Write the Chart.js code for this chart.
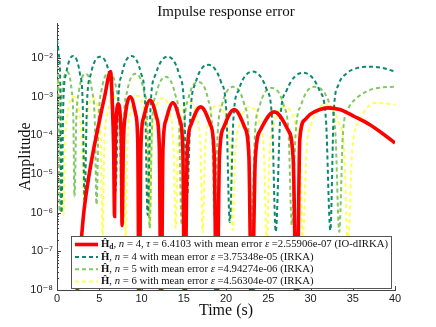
<!DOCTYPE html>
<html><head><meta charset="utf-8">
<script src="https://cdn.jsdelivr.net/npm/chart.js@4"></script>
<style>html,body{margin:0;padding:0;background:#fff}canvas{display:block}</style>
</head><body>
<canvas id="c" width="436" height="327"></canvas>
<script>
// ---- data (time in s, amplitude) ----
const redT = [2.3,2.78,3.14,3.61,4.21,4.92,5.63,6.34,6.55,6.70,6.81, 6.88,6.99,7.25,7.52,7.63,7.70, 7.86,8.10,8.68,9.32,9.56,9.72, 9.93,10.24,11.02,11.80,12.11,12.32, 12.54,12.88,13.71,14.55,14.89,15.11, 15.41,15.87,17.00,18.14,18.60,18.90, 19.23,19.73,20.97,22.21,22.71,23.04, 23.47,24.11,25.71,27.31,27.95,28.38, 28.73,29.33,29.92,31.10,32.05,33.47,35.25,37.03,38.80,40];
const redV = [5e-9,1.07e-7,8.7e-7,5.2e-6,3.1e-5,1.86e-4,9.8e-4,4.4e-3,6e-4,5e-5,8e-7, 4.0e-5,2.3e-4,6.5e-4,2.3e-4,4.0e-5,4.6e-7, 6.1e-5,3.4e-4,9.8e-4,3.4e-4,6.1e-5,1e-9, 5.0e-5,2.8e-4,8.1e-4,2.8e-4,5.0e-5,1e-9, 4.3e-5,2.4e-4,6.9e-4,2.4e-4,4.3e-5,1e-9, 3.3e-5,1.9e-4,5.4e-4,1.9e-4,3.3e-5,1e-9, 2.9e-5,1.6e-4,4.6e-4,1.6e-4,2.9e-5,1e-9, 2.5e-5,1.4e-4,4.0e-4,1.4e-4,2.5e-5,1e-9, 7.6e-5,2.5e-4,3.4e-4,4.6e-4,5.1e-4,4.6e-4,3.0e-4,1.86e-4,1.0e-4,6.3e-5];

const tealT = [0,0.2,0.38,0.53, 0.75,1.08,1.90,2.71,3.04,3.26, 3.55,3.99,5.09,6.20,6.64,6.93, 7.23,7.69,8.83,9.96,10.42,10.72, 11.09,11.66,13.06,14.46,15.03,15.40, 15.80,16.41,17.92,19.43,20.04,20.44, 20.88,21.53,23.17,24.80,25.45,25.89, 26.41,27.18,29.12,31.06,31.83,32.35, 32.75,33.3,34.3,35.6,37.03,38.8,40];
const tealV = [2.9e-2,1.3e-2,2.5e-3,9.8e-7, 6.9e-4,3.9e-3,1.12e-2,3.9e-3,6.9e-4,2.1e-6, 6.6e-4,3.7e-3,1.07e-2,3.7e-3,6.6e-4,3.6e-6, 6.9e-4,3.9e-3,1.12e-2,3.9e-3,6.9e-4,8.7e-7, 6.6e-4,3.7e-3,1.07e-2,3.7e-3,6.6e-4,2.6e-6, 4.1e-4,2.3e-3,6.6e-3,2.3e-3,4.1e-4,5.7e-7, 2.7e-4,1.54e-3,4.4e-3,1.54e-3,2.7e-4,3.2e-7, 2.5e-4,1.44e-3,4.1e-3,1.44e-3,2.5e-4,3.5e-7, 4e-4,2.0e-3,4.0e-3,5.5e-3,5.9e-3,5.3e-3,4.4e-3];

const greenT = [0,0.15,0.30, 0.44,0.65,1.18,1.72,1.93,2.07, 2.28,2.59,3.38,4.16,4.47,4.68, 4.92,5.27,6.16,7.05,7.40,7.64, 7.91,8.30,9.30,10.30,10.69,10.96, 11.26,11.72,12.86,13.99,14.45,14.75, 15.06,15.53,16.71,17.88,18.35,18.66, 19.01,19.54,20.85,22.16,22.69,23.04, 23.42,23.99,25.42,26.84,27.41,27.79, 28.24,28.91,30.4,32.28,32.95,33.4, 33.85,34.5,35.49,37.03,38.5,40];
const greenV = [6.2e-3,1.5e-3,1.05e-6, 2.7e-4,1.52e-3,4.35e-3,1.52e-3,2.7e-4,2.6e-6, 2.4e-4,1.35e-3,3.86e-3,1.35e-3,2.4e-4,1.6e-6, 2.5e-4,1.44e-3,4.1e-3,1.44e-3,2.5e-4,8.7e-7, 2.4e-4,1.35e-3,3.86e-3,1.35e-3,2.4e-4,4.0e-7, 2.0e-4,1.13e-3,3.23e-3,1.13e-3,2.0e-4,4.8e-7, 1.48e-4,8.4e-4,2.39e-3,8.4e-4,1.48e-4,7.3e-7, 1.1e-4,6.2e-4,1.78e-3,6.2e-4,1.1e-4,4.8e-7, 1.04e-4,5.8e-4,1.67e-3,5.8e-4,1.04e-4,4.8e-7, 1.1e-4,6.2e-4,1.78e-3,6.2e-4,1.1e-4,3.2e-7, 1.2e-4,5e-4,9.2e-4,1.48e-3,1.72e-3,1.78e-3];

const yellowT = [0,0.4,0.77, 0.96,1.24,1.95,2.67,2.95,3.14, 3.32,3.59,4.27,4.94,5.21,5.39, 5.61,5.94,6.75,7.57,7.90,8.12, 8.35,8.69,9.54,10.39,10.73,10.96, 11.21,11.58,12.50,13.42,13.79,14.04, 14.30,14.68,15.64,16.60,16.98,17.24, 17.52,17.95,19.02,20.08,20.51,20.79, 21.11,21.60,22.81,24.01,24.50,24.82, 25.16,25.67,26.95,28.24,28.75,29.09, 29.52,30.16,31.70,33.35,33.99,34.42, 34.95,35.8,37.86,40];
const yellowV = [2.4e-3,8e-4,8.7e-7, 6.1e-5,3.4e-4,9.8e-4,3.4e-4,6.1e-5,2.1e-6, 5.7e-5,3.2e-4,9.2e-4,3.2e-4,5.7e-5,2.6e-7, 6.1e-5,3.4e-4,9.8e-4,3.4e-4,6.1e-5,1.45e-7, 6.4e-5,3.6e-4,1.04e-3,3.6e-4,6.4e-5,4.0e-7, 5.7e-5,3.2e-4,9.2e-4,3.2e-4,5.7e-5,4.0e-7, 4.5e-5,2.6e-4,7.3e-4,2.6e-4,4.5e-5,3.0e-7, 3.8e-5,2.1e-4,6.1e-4,2.1e-4,3.8e-5,3.5e-7, 3.3e-5,1.9e-4,5.4e-4,1.9e-4,3.3e-5,1.45e-7, 3.3e-5,1.9e-4,5.4e-4,1.9e-4,3.3e-5,2.2e-7, 3.8e-5,2.1e-4,6.1e-4,2.1e-4,3.8e-5,1.45e-7, 4.3e-5,2.4e-4,6.9e-4,6.1e-4];

const xTickValues = [0,5,10,15,20,25,30,35,40];
const yTickValues = [1e-8,1e-7,1e-6,1e-5,1e-4,1e-3,1e-2];
const yTickLabels = ['10⁻⁸','10⁻⁷','10⁻⁶','10⁻⁵','10⁻⁴','10⁻³','10⁻²'];
const titleText = 'Impulse response error';
const xTitle = 'Time (s)';
const yTitle = 'Amplitude';
// legend rows: [text, style] segments (b = bold, i = italic, s = bold subscript)
const legendRows = [
  [['Ĥ','b'],['d','s'],[', ',''],['n','i'],[' = 4, ',''],['τ','i'],[' = 6.4103 with mean error ',''],['ε','i'],[' =2.55906e-07 (IO-dIRKA)','']],
  [['Ĥ','b'],[', ',''],['n','i'],[' = 4 with mean error ',''],['ε','i'],[' =3.75348e-05 (IRKA)','']],
  [['Ĥ','b'],[', ',''],['n','i'],[' = 5 with mean error ',''],['ε','i'],[' =4.94274e-06 (IRKA)','']],
  [['Ĥ','b'],[', ',''],['n','i'],[' = 6 with mean error ',''],['ε','i'],[' =4.56304e-07 (IRKA)','']]
];

const SERIF = "'Liberation Serif','DejaVu Serif',serif";
const SANS = "'Liberation Sans','DejaVu Sans',sans-serif";
const pts = (T, V) => T.map((t, i) => ({x: t, y: V[i]}));

const axisDeco = {
  id: 'axisDeco',
  afterDraw(chart) {
    const {ctx, chartArea: a, scales: {x, y}} = chart;
    ctx.save();
    ctx.strokeStyle = '#444';
    ctx.lineWidth = 1;
    ctx.beginPath();
    for (let k = -8; k <= -2; k++) {
      for (let m = 1; m <= 9; m++) {
        const v = m * Math.pow(10, k);
        if (v < y.min || v > y.max) continue;
        const py = Math.round(y.getPixelForValue(v)) + 0.5;
        ctx.moveTo(a.left, py);
        ctx.lineTo(a.left + (m === 1 ? 4 : 2), py);
      }
    }
    xTickValues.forEach(v => {
      const px = Math.round(x.getPixelForValue(v)) + 0.5;
      ctx.moveTo(px, a.bottom);
      ctx.lineTo(px, a.bottom - 4);
    });
    ctx.stroke();
    ctx.restore();
  }
};

const legendBox = {
  id: 'legendBox',
  afterDraw(chart) {
    const {ctx} = chart;
    const L = 71, T = 236, R = 391, B = 288;
    ctx.save();
    ctx.fillStyle = '#fff';
    ctx.fillRect(L, T, R - L, B - T);
    ctx.strokeStyle = '#555';
    ctx.lineWidth = 1;
    ctx.strokeRect(L + 0.5, T + 0.5, R - L, B - T);
    const fontFor = (st, fs) => (st === 'b' || st === 's' ? 'bold ' : st === 'i' ? 'italic ' : '') + (st === 's' ? fs * 0.7 : fs) + 'px ' + SERIF;
    const rowWidth = (row, fs) => row.reduce((w, [t, st]) => { ctx.font = fontFor(st, fs); return w + ctx.measureText(t).width; }, 0);
    const fs = +(11 * 287 / rowWidth(legendRows[0], 11)).toFixed(2);
    const rowsY = [244.5, 257, 269.3, 281.6];
    chart.data.datasets.forEach((ds, i) => {
      const ry = rowsY[i];
      ctx.beginPath();
      ctx.strokeStyle = ds.borderColor;
      ctx.lineWidth = ds.borderWidth;
      ctx.setLineDash(ds.borderDash || []);
      ctx.moveTo(75, ry);
      ctx.lineTo(98, ry);
      ctx.stroke();
      ctx.setLineDash([]);
      let cx = 101;
      ctx.fillStyle = '#111';
      ctx.textBaseline = 'middle';
      legendRows[i].forEach(([t, st]) => {
        ctx.font = fontFor(st, fs);
        ctx.fillText(t, cx, st === 's' ? ry + 2.5 : ry);
        cx += ctx.measureText(t).width;
      });
    });
    ctx.restore();
  }
};

new Chart(document.getElementById('c'), {
  type: 'line',
  data: {
    datasets: [
      {label: 'IO-dIRKA n=4', data: pts(redT, redV), borderColor: '#ff0000', borderWidth: 3.6},
      {label: 'IRKA n=4', data: pts(tealT, tealV), borderColor: '#0a8a6a', borderWidth: 2, borderDash: [4, 3]},
      {label: 'IRKA n=5', data: pts(greenT, greenV), borderColor: '#84c863', borderWidth: 2, borderDash: [4, 3]},
      {label: 'IRKA n=6', data: pts(yellowT, yellowV), borderColor: '#ffff5a', borderWidth: 2, borderDash: [4, 3]}
    ]
  },
  options: {
    responsive: false,
    animation: false,
    devicePixelRatio: 1,
    layout: {padding: {left: 0, right: 41, top: 0, bottom: 0}},
    elements: {point: {radius: 0}, line: {cubicInterpolationMode: 'monotone', fill: false}},
    plugins: {
      legend: {display: false},
      tooltip: {enabled: false},
      title: {display: true, text: titleText, fullSize: false, color: '#111',
        font: {family: SERIF, size: 15, weight: 'normal', lineHeight: 1.2}, padding: {top: 3, bottom: 2}}
    },
    scales: {
      x: {
        type: 'linear', min: 0, max: 40, position: 'bottom',
        afterFit: s => { s.height = 37; },
        afterBuildTicks: s => { s.ticks = xTickValues.map(v => ({value: v})); },
        grid: {drawOnChartArea: false, drawTicks: false},
        border: {display: true, color: '#444', width: 1},
        ticks: {color: '#222', font: {family: SANS, size: 11}, padding: 2, maxRotation: 0},
        title: {display: true, text: xTitle, color: '#111', font: {family: SERIF, size: 16, lineHeight: 1.2}, padding: {top: 0, bottom: 7}}
      },
      y: {
        type: 'logarithmic', min: 1e-8, max: 0.0794, position: 'left',
        afterFit: s => { s.width = 57; },
        afterBuildTicks: s => { s.ticks = yTickValues.map(v => ({value: v})); },
        grid: {drawOnChartArea: false, drawTicks: false},
        border: {display: true, color: '#444', width: 1},
        ticks: {color: '#222', font: {family: SANS, size: 11}, padding: 4,
          callback: v => { const i = yTickValues.indexOf(v); return i >= 0 ? yTickLabels[i] : ''; }},
        title: {display: true, text: yTitle, color: '#111', font: {family: SERIF, size: 16, lineHeight: 1.2}, padding: {top: 16, bottom: 0}}
      }
    }
  },
  plugins: [axisDeco, legendBox]
});
</script>
</body></html>
